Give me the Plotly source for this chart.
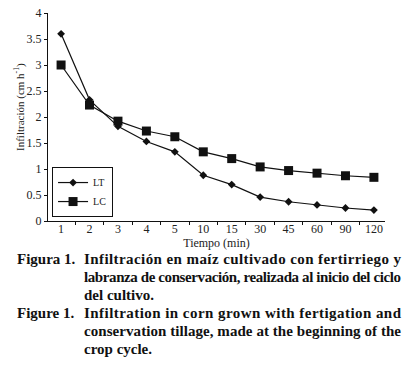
import json
import plotly.graph_objects as go

tiempo = ["1", "2", "3", "4", "5", "10", "15", "30", "45", "60", "90", "120"]
lt = [3.6, 2.33, 1.82, 1.53, 1.33, 0.88, 0.70, 0.46, 0.37, 0.31, 0.25, 0.21]
lc = [3.0, 2.23, 1.92, 1.73, 1.62, 1.33, 1.20, 1.04, 0.97, 0.92, 0.87, 0.84]

caption_es = ["Figura 1.", "Infiltración en maíz cultivado con fertirriego y",
              "labranza de conservación, realizada al inicio del ciclo",
              "del cultivo."]
caption_en = ["Figure 1.", "Infiltration in corn grown with fertigation and",
              "conservation tillage, made at the beginning of the",
              "crop cycle."]

FONT = "Times New Roman, Liberation Serif, DejaVu Serif, serif"
W, H = 409, 370
L, R, T, B = 48, 24, 13, 149
pw, ph = W - L - R, H - T - B
fig = go.Figure()
fig.add_trace(go.Scatter(x=tiempo, y=lt, name="LT", mode="lines+markers",
                         line=dict(color="#111", width=1.2),
                         marker=dict(symbol="diamond", size=6, color="#111")))
fig.add_trace(go.Scatter(x=tiempo, y=lc, name="LC", mode="lines+markers",
                         line=dict(color="#111", width=1.2),
                         marker=dict(symbol="square", size=9, color="#111")))

fig.update_layout(
    width=W, height=H,
    margin=dict(l=L, r=R, t=T, b=B, autoexpand=False),
    paper_bgcolor="white", plot_bgcolor="white",
    font=dict(family=FONT, size=12, color="#222"),
    showlegend=True,
    legend=dict(x=0.012, y=0.019, xanchor="left", yanchor="bottom",
                bordercolor="#111", borderwidth=1, bgcolor="white",
                font=dict(family=FONT, size=10, color="#222"),
                tracegroupgap=0, itemwidth=30),
    xaxis=dict(type="category", range=[-0.46, 11.39], showline=True,
               linecolor="#111", linewidth=1, ticks="outside", tickson="boundaries",
               ticklen=3, tickcolor="#111", showgrid=False, zeroline=False,
               automargin=False, tickfont=dict(family=FONT, size=12),
               ticklabelstandoff=-3,
               title=dict(text="Tiempo (min)", standoff=0,
                          font=dict(family=FONT, size=12))),
    yaxis=dict(range=[0, 4], dtick=0.5, showline=True, linecolor="#111",
               linewidth=1, ticks="outside", ticklen=3, tickcolor="#111",
               showgrid=False, zeroline=False, automargin=False,
               tickfont=dict(family=FONT, size=12)),
)

# y-axis title (placed to match the reference's off-centre position)
fig.add_annotation(text="Infiltración (cm h<sup>-1</sup>)", xref="paper", yref="paper",
                   x=(20 - L) / pw, y=1 - (107 - T) / ph, textangle=-90,
                   xanchor="center", yanchor="middle", showarrow=False,
                   font=dict(family=FONT, size=11, color="#222"))

rows = [(caption_es[0], caption_es[1], 259, True), (None, caption_es[2], 277, True),
        (None, caption_es[3], 295, False), (caption_en[0], caption_en[1], 313, True),
        (None, caption_en[2], 331, True), (None, caption_en[3], 349, False)]
justify = []
idx = 1
for lab, txt, y, just in rows:
    items = ([(lab, 15, False)] if lab else []) + [(txt, 82, just)]
    for t, x, j in items:
        fig.add_annotation(text="<b>" + t + "</b>", xref="paper", yref="paper",
                           x=(x - L) / pw, y=1 - (y - T) / ph, align="left",
                           xanchor="left", yanchor="middle", showarrow=False,
                           font=dict(family=FONT, size=15, color="#111"))
        if j:
            justify.append(idx)
        idx += 1

post = """
(function(){
var gd = document.getElementById('{plot_id}');
var ids = %s;
function just(){
  try {
    ids.forEach(function(i){
      var t = gd.querySelector('g.annotation[data-index="' + i + '"] text.annotation-text');
      if (t) { t.setAttribute('textLength', '%d'); t.setAttribute('lengthAdjust', 'spacing'); }
    });
  } catch(e) {}
}
just();
setTimeout(just, 0);
if (gd.on) gd.on('plotly_afterplot', just);
})();
document.body.style.margin='0';
""" % (json.dumps(justify), 400 - 82 - 1)

fig.write_html("out.html", post_script=post, config={"displayModeBar": False})
